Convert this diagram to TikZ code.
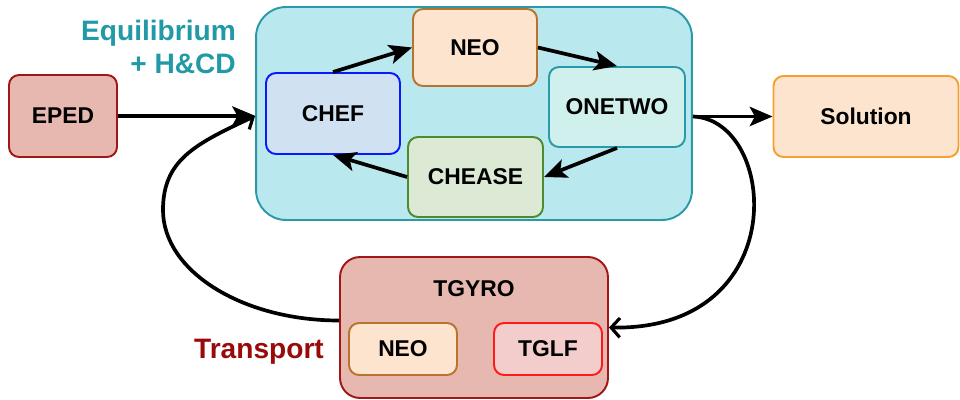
\documentclass[tikz,border=0pt]{standalone}
\usepackage{fontspec}
\setmainfont{Liberation Sans}
\usetikzlibrary{arrows.meta}
\definecolor{tealS}{HTML}{2A9AA8}
\definecolor{tealF}{HTML}{B9E8EE}
\definecolor{tealT}{HTML}{2299A6}
\definecolor{oneF}{HTML}{CFF0ED}
\definecolor{chefF}{HTML}{D0E1F2}
\definecolor{chefS}{HTML}{0A1AFF}
\definecolor{neoF}{HTML}{FDE4CF}
\definecolor{neoS}{HTML}{B8732F}
\definecolor{cheF}{HTML}{DCE9D5}
\definecolor{cheS}{HTML}{4E8A2E}
\definecolor{solS}{HTML}{F5A030}
\definecolor{redF}{HTML}{E6B8AF}
\definecolor{redS}{HTML}{A11717}
\definecolor{redT}{HTML}{990A0A}
\definecolor{tglfF}{HTML}{F3CCCC}
\definecolor{tglfS}{HTML}{FF1A1A}
\begin{document}
\begin{tikzpicture}[x=0.02cm,y=-0.02cm,
  box/.style={draw,line width=1.1pt,rounded corners=0.2cm,inner sep=0pt,
    font=\fontsize{13}{15}\selectfont\bfseries},
  arr/.style={line width=2.1pt,-{Stealth[length=13pt,width=11pt,inset=3pt]}},
  openarr/.style={line width=2.1pt,-{Straight Barb[length=5pt,width=11pt,line width=1.8pt]}},
  lbl/.style={font=\fontsize{16}{19}\selectfont\bfseries}]
\useasboundingbox (0,0) rectangle (960,399);
% containers
\node[box,fill=tealF,draw=tealS,rounded corners=0.6cm,minimum width=8.72cm,minimum height=4.26cm] (eq) at (474,113.5) {};
\node[box,fill=redF,draw=redS,rounded corners=0.4cm,minimum width=5.36cm,minimum height=2.82cm] (tgyro) at (474,327.5) {};
\node[font=\fontsize{13}{15}\selectfont\bfseries] (tgyrolbl) at (474,289) {TGYRO};
% boxes
\node[box,fill=redF,draw=redS,minimum width=2.16cm,minimum height=1.64cm] (eped) at (63,116) {EPED};
\node[box,fill=chefF,draw=chefS,minimum width=2.68cm,minimum height=1.62cm] (chef) at (333,113.5) {CHEF};
\node[box,fill=neoF,draw=neoS,minimum width=2.48cm,minimum height=1.54cm] (neo) at (475,47.5) {NEO};
\node[box,fill=oneF,draw=tealS,minimum width=2.72cm,minimum height=1.6cm] (onetwo) at (617,107) {ONETWO};
\node[box,fill=cheF,draw=cheS,minimum width=2.7cm,minimum height=1.6cm] (chease) at (475.5,177) {CHEASE};
\node[box,fill=neoF,draw=solS,minimum width=3.7cm,minimum height=1.62cm] (sol) at (866,116.5) {Solution};
\node[box,fill=neoF,draw=neoS,minimum width=2.16cm,minimum height=1.04cm] (neo2) at (403,349) {NEO};
\node[box,fill=tglfF,draw=tglfS,minimum width=2.16cm,minimum height=1.04cm] (tglf) at (548,349) {TGLF};
% labels
\node[lbl,text=tealT,align=right,anchor=east] (eqlbl) at (242,47) {Equilibrium\\+ H\&CD};
\node[lbl,text=redT] (translbl) at (259,352) {Transport};
% connectors
\draw[openarr] ([yshift=0.14cm]tgyro.west) .. controls +(-97,0) and +(0,61) .. (163,210)
   .. controls +(0,-50) and +(-60,28) .. (eped.east -| eq.west);
\draw[arr] (eped.east) -- (eped.east -| eq.west);
\draw[arr] (chef.north) -- (neo.west);
\draw[arr] (neo.east) -- (onetwo.north);
\draw[arr] (onetwo.south) -- (chease.east);
\draw[arr] (chease.west) -- (chef.south);
\draw[arr] (eq.east |- sol.west) -- (sol.west);
\draw[openarr] (eq.east |- sol.west) .. controls +(85,3) and +(185,3) .. (tgyro.east);
\end{tikzpicture}
\end{document}
